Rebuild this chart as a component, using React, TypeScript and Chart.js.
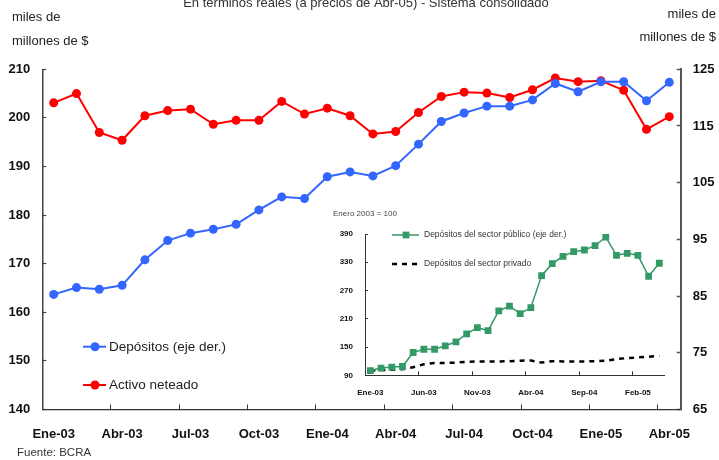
import React, { useEffect, useRef } from 'react';
import { Chart, registerables } from 'chart.js';

Chart.register(...registerables);

const FONT = '"Liberation Sans", Arial, sans-serif';

const months = [
  'Ene-03', 'Feb-03', 'Mar-03', 'Abr-03', 'May-03', 'Jun-03', 'Jul-03', 'Ago-03', 'Sep-03', 'Oct-03', 'Nov-03', 'Dic-03',
  'Ene-04', 'Feb-04', 'Mar-04', 'Abr-04', 'May-04', 'Jun-04', 'Jul-04', 'Ago-04', 'Sep-04', 'Oct-04', 'Nov-04', 'Dic-04',
  'Ene-05', 'Feb-05', 'Mar-05', 'Abr-05',
];

// Depósitos (eje der.) - right axis
const depositos = [85.3, 86.5, 86.2, 86.9, 91.4, 94.8, 96.1, 96.8, 97.65, 100.2, 102.5, 102.2, 106.05, 106.9, 106.2, 108.0, 111.8, 115.8, 117.3, 118.5, 118.5, 119.6, 122.5, 121.05, 122.8, 122.8, 119.45, 122.7];
// Activo neteado - left axis
const activoNeteado = [203.1, 205.0, 197.0, 195.4, 200.45, 201.5, 201.8, 198.7, 199.5, 199.5, 203.4, 200.8, 202.0, 200.45, 196.7, 197.2, 201.1, 204.4, 205.3, 205.1, 204.2, 205.8, 208.2, 207.45, 207.65, 205.7, 197.65, 200.25];

// Inset (Enero 2003 = 100)
const depPublico = [100, 105.3, 107.4, 108.7, 138.4, 145.3, 145.3, 152.6, 161, 178, 191.4, 185, 226.8, 236.7, 221, 233.8, 301.6, 327, 342.7, 352.5, 356, 365.2, 383.6, 344.8, 349, 344.8, 300.3, 327.9];
const depPrivado = [100, 101, 102, 103, 107, 113.5, 116, 116, 117, 118.5, 119.5, 119.5, 119.5, 120, 121, 121.5, 117, 120, 119.5, 119.5, 119.5, 120, 121, 124.5, 126.5, 128, 129.5, 131];

const leftAxis = { min: 140, max: 210, step: 10 };
const rightAxis = { min: 65, max: 125, step: 10 };
const insetAxis = { min: 90, max: 390, step: 60 };

const TITLE = 'En términos reales (a precios de Abr-05) - Sistema consolidado';
const UNIT1 = 'miles de';
const UNIT2 = 'millones de $';
const SOURCE = 'Fuente: BCRA';
const INSET_NOTE = 'Enero 2003 = 100';

const LABEL_DEP = 'Depósitos (eje der.)';
const LABEL_ACT = 'Activo neteado';
const LABEL_PUB = 'Depósitos del sector público (eje der.)';
const LABEL_PRIV = 'Depósitos del sector privado';

const BLUE = '#3366FF';
const RED = '#FF0000';
const GREEN = '#339966';

const mainTextPlugin = {
  id: 'mainText',
  afterDraw(chart: any) {
    const ctx = chart.ctx;
    ctx.save();
    ctx.textBaseline = 'middle';
    ctx.fillStyle = '#333';
    ctx.font = `13px ${FONT}`;
    ctx.textAlign = 'center';
    ctx.fillText(TITLE, 366, 3);
    ctx.fillStyle = '#222';
    ctx.textAlign = 'left';
    ctx.fillText(UNIT1, 12, 17);
    ctx.fillText(UNIT2, 12, 41);
    ctx.textAlign = 'right';
    ctx.fillText(UNIT1, 716, 14);
    ctx.fillText(UNIT2, 716, 37);
    ctx.textAlign = 'left';
    ctx.fillStyle = '#333';
    ctx.font = `11.5px ${FONT}`;
    ctx.fillText(SOURCE, 17, 453);

    // legend
    const ys = [346.7, 385];
    chart.data.datasets.forEach((ds: any, k: number) => {
      const y = ys[k];
      ctx.strokeStyle = ds.borderColor;
      ctx.lineWidth = ds.borderWidth;
      ctx.beginPath();
      ctx.moveTo(83, y);
      ctx.lineTo(106, y);
      ctx.stroke();
      ctx.fillStyle = ds.borderColor;
      ctx.beginPath();
      ctx.arc(95, y, ds.pointRadius, 0, Math.PI * 2);
      ctx.fill();
      ctx.fillStyle = '#222';
      ctx.font = `13.5px ${FONT}`;
      ctx.textAlign = 'left';
      ctx.fillText(ds.label, 109, y + 0.5);
    });
    ctx.restore();
  },
};

const insetTextPlugin = {
  id: 'insetText',
  afterDraw(chart: any) {
    const ctx = chart.ctx;
    ctx.save();
    ctx.textBaseline = 'middle';
    ctx.fillStyle = '#444';
    ctx.font = `8px ${FONT}`;
    ctx.textAlign = 'left';
    ctx.fillText(INSET_NOTE, 3, 9);

    const ys = [30, 59];
    chart.data.datasets.forEach((ds: any, k: number) => {
      const y = ys[k];
      ctx.strokeStyle = ds.borderColor;
      ctx.lineWidth = ds.borderWidth;
      ctx.setLineDash(ds.borderDash || []);
      ctx.beginPath();
      ctx.moveTo(62, y);
      ctx.lineTo(89, y);
      ctx.stroke();
      ctx.setLineDash([]);
      if (ds.pointRadius > 0) {
        const s = ds.pointRadius * Math.SQRT1_2;
        ctx.fillStyle = ds.borderColor;
        ctx.fillRect(76 - s, y - s, 2 * s, 2 * s);
      }
      ctx.fillStyle = '#333';
      ctx.font = `8.5px ${FONT}`;
      ctx.fillText(ds.label, 94, y);
    });
    ctx.restore();
  },
};

function MainChart() {
  const ref = useRef<HTMLCanvasElement | null>(null);
  useEffect(() => {
    if (!ref.current) return;
    const chart = new Chart(ref.current, {
      type: 'line',
      data: {
        labels: months,
        datasets: [
          {
            label: LABEL_DEP,
            data: depositos,
            yAxisID: 'yR',
            borderColor: BLUE,
            backgroundColor: BLUE,
            pointBackgroundColor: BLUE,
            borderWidth: 2,
            pointRadius: 4.5,
            pointBorderWidth: 0,
            tension: 0,
          },
          {
            label: LABEL_ACT,
            data: activoNeteado,
            yAxisID: 'yL',
            borderColor: RED,
            backgroundColor: RED,
            pointBackgroundColor: RED,
            borderWidth: 2,
            pointRadius: 4.5,
            pointBorderWidth: 0,
            tension: 0,
          },
        ],
      },
      options: {
        responsive: false,
        animation: false,
        events: [],
        layout: { padding: { top: 69.3, left: 0, right: 0, bottom: 0 } },
        plugins: { legend: { display: false }, tooltip: { enabled: false }, title: { display: false } },
        scales: {
          x: {
            type: 'category',
            offset: true,
            grid: {
              offset: true,
              drawOnChartArea: false,
              drawTicks: true,
              tickLength: -5,
              tickWidth: 1,
              tickColor: (c: any) => (c.type === 'tick' && c.index % 3 === 0 && c.index > 0 ? '#333' : 'rgba(0,0,0,0)'),
            },
            border: { color: '#333', width: 1.2 },
            ticks: {
              autoSkip: false,
              maxRotation: 0,
              padding: 22,
              color: '#111',
              font: { family: FONT, size: 13, weight: 'bold' },
              callback: (_v: any, i: number) => (i % 3 === 0 ? months[i] : ''),
            },
            afterFit: (s: any) => { s.height = 50.5; },
          },
          yL: {
            type: 'linear',
            position: 'left',
            min: leftAxis.min,
            max: leftAxis.max,
            grid: { drawOnChartArea: false, tickLength: -4, tickColor: '#444', tickWidth: 1.2 },
            border: { color: '#444', width: 1.5 },
            ticks: {
              stepSize: leftAxis.step,
              padding: 16,
              color: '#111',
              font: { family: FONT, size: 13, weight: 'bold' },
            },
            afterFit: (s: any) => { s.width = 42.3; },
          },
          yR: {
            type: 'linear',
            position: 'right',
            min: rightAxis.min,
            max: rightAxis.max,
            grid: { drawOnChartArea: false, tickLength: -4, tickColor: '#555', tickWidth: 1.5 },
            border: { color: '#555', width: 2 },
            ticks: {
              stepSize: rightAxis.step,
              padding: 16,
              color: '#111',
              font: { family: FONT, size: 13, weight: 'bold' },
            },
            afterFit: (s: any) => { s.width = 38.3; },
          },
        },
      } as any,
      plugins: [mainTextPlugin],
    });
    return () => chart.destroy();
  }, []);
  return <canvas ref={ref} width={719} height={460} style={{ position: 'absolute', left: 0, top: 0, width: 719, height: 460 }} />;
}

function InsetChart() {
  const ref = useRef<HTMLCanvasElement | null>(null);
  useEffect(() => {
    if (!ref.current) return;
    const chart = new Chart(ref.current, {
      type: 'line',
      data: {
        labels: months,
        datasets: [
          {
            label: LABEL_PUB,
            data: depPublico,
            borderColor: GREEN,
            backgroundColor: GREEN,
            pointBackgroundColor: GREEN,
            borderWidth: 1.5,
            pointRadius: 4.8,
            pointStyle: 'rect',
            pointBorderWidth: 0,
            tension: 0,
          },
          {
            label: LABEL_PRIV,
            data: depPrivado,
            borderColor: '#000',
            backgroundColor: '#000',
            borderWidth: 2.5,
            borderDash: [5, 5],
            pointRadius: 0,
            tension: 0,
          },
        ],
      },
      options: {
        responsive: false,
        animation: false,
        events: [],
        layout: { padding: { top: 29, left: 0, right: 5.3, bottom: 0 } },
        plugins: { legend: { display: false }, tooltip: { enabled: false }, title: { display: false } },
        scales: {
          x: {
            type: 'category',
            offset: true,
            grid: {
              offset: true,
              drawOnChartArea: false,
              drawTicks: true,
              tickLength: -4,
              tickWidth: 1,
              tickColor: (c: any) => (c.type === 'tick' && c.index % 5 === 0 && c.index > 0 ? '#333' : 'rgba(0,0,0,0)'),
            },
            border: { color: '#333', width: 1 },
            ticks: {
              autoSkip: false,
              maxRotation: 0,
              padding: 16.6,
              color: '#111',
              font: { family: FONT, size: 8, weight: 'bold' },
              callback: (_v: any, i: number) => (i % 5 === 0 ? months[i] : ''),
            },
            afterFit: (s: any) => { s.height = 24.7; },
          },
          y: {
            type: 'linear',
            position: 'left',
            min: insetAxis.min,
            max: insetAxis.max,
            grid: { drawOnChartArea: false, tickLength: -3, tickColor: '#333', tickWidth: 1 },
            border: { color: '#333', width: 1 },
            ticks: {
              stepSize: insetAxis.step,
              padding: 15,
              color: '#111',
              font: { family: FONT, size: 8, weight: 'bold' },
            },
            afterFit: (s: any) => { s.width = 35; },
          },
        },
      } as any,
      plugins: [insetTextPlugin],
    });
    return () => chart.destroy();
  }, []);
  return <canvas ref={ref} width={346} height={195} style={{ position: 'absolute', left: 330, top: 205, width: 346, height: 195 }} />;
}

export default function App() {
  return (
    <div style={{ position: 'absolute', left: 0, top: 0, width: 719, height: 460, background: '#fff' }}>
      <MainChart />
      <InsetChart />
    </div>
  );
}
